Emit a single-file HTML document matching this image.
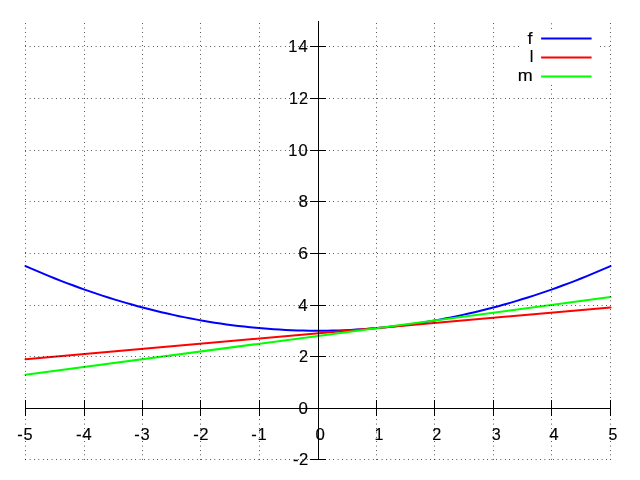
<!DOCTYPE html>
<html><head><meta charset="utf-8"><title>plot</title>
<style>html,body{margin:0;padding:0;background:#fff;}body{width:640px;height:480px;overflow:hidden;font-family:"Liberation Sans",sans-serif;}svg{display:block;will-change:transform}</style>
</head><body>
<svg width="640" height="480" viewBox="0 0 640 480">
<rect width="640" height="480" fill="#fff"/>
<polyline points="25.50,266.09 31.41,268.67 37.32,271.20 43.23,273.68 49.14,276.11 55.05,278.49 60.95,280.81 66.86,283.08 72.77,285.29 78.68,287.46 84.59,289.57 90.50,291.62 96.41,293.63 102.32,295.58 108.23,297.48 114.14,299.33 120.05,301.12 125.95,302.86 131.86,304.55 137.77,306.19 143.68,307.77 149.59,309.30 155.50,310.78 161.41,312.20 167.32,313.57 173.23,314.89 179.14,316.16 185.05,317.37 190.95,318.53 196.86,319.64 202.77,320.70 208.68,321.70 214.59,322.65 220.50,323.55 226.41,324.39 232.32,325.18 238.23,325.92 244.14,326.61 250.05,327.24 255.95,327.82 261.86,328.35 267.77,328.82 273.68,329.25 279.59,329.61 285.50,329.93 291.41,330.19 297.32,330.41 303.23,330.56 309.14,330.67 315.05,330.72 320.95,330.72 326.86,330.67 332.77,330.56 338.68,330.41 344.59,330.19 350.50,329.93 356.41,329.61 362.32,329.25 368.23,328.82 374.14,328.35 380.05,327.82 385.95,327.24 391.86,326.61 397.77,325.92 403.68,325.18 409.59,324.39 415.50,323.55 421.41,322.65 427.32,321.70 433.23,320.70 439.14,319.64 445.05,318.53 450.95,317.37 456.86,316.16 462.77,314.89 468.68,313.57 474.59,312.20 480.50,310.78 486.41,309.30 492.32,307.77 498.23,306.19 504.14,304.55 510.05,302.86 515.95,301.12 521.86,299.33 527.77,297.48 533.68,295.58 539.59,293.63 545.50,291.62 551.41,289.57 557.32,287.46 563.23,285.29 569.14,283.08 575.05,280.81 580.95,278.49 586.86,276.11 592.77,273.68 598.68,271.20 604.59,268.67 610.50,266.09" stroke="#0000ff" stroke-width="2" fill="none" stroke-linejoin="round" stroke-linecap="round"/>
<polyline points="25.50,359.17 610.50,307.46" stroke="#ff0000" stroke-width="2" fill="none" stroke-linejoin="round" stroke-linecap="round"/>
<polyline points="25.50,374.69 610.50,297.11" stroke="#00ff00" stroke-width="2" fill="none" stroke-linejoin="round" stroke-linecap="round"/>
<path d="M25.35 46.5H520.5 M600.1 46.5H610.9 M25.35 98.5H610.9 M25.35 150.5H610.9 M25.35 201.5H610.9 M25.35 253.5H610.9 M25.35 305.5H610.9 M25.35 356.5H610.9 M25.35 459.5H610.9 M25.5 459.6V20.5 M84.5 459.6V20.5 M142.5 459.6V20.5 M200.5 459.6V20.5 M259.5 459.6V20.5 M376.5 459.6V20.5 M434.5 459.6V20.5 M493.5 459.6V20.5 M551.5 459.6V84.0 M551.5 28.6V20.5 M610.5 459.6V20.5" stroke="#000" stroke-width="1" stroke-dasharray="0.65 3.7500000000000004" fill="none"/>
<path d="M25 408.5H611 M318.5 21V460 M25.5 400V416 M84.5 400V416 M142.5 400V416 M200.5 400V416 M259.5 400V416 M318.5 400V416 M376.5 400V416 M434.5 400V416 M493.5 400V416 M551.5 400V416 M610.5 400V416 M310 46.5H326 M310 98.5H326 M310 150.5H326 M310 201.5H326 M310 253.5H326 M310 305.5H326 M310 356.5H326 M310 408.5H326 M310 459.5H326" stroke="#000" stroke-width="1" fill="none"/>
<g font-family="'Liberation Sans', sans-serif" font-size="16.95" fill="#000" stroke="#000" stroke-width="0.15" stroke-linejoin="round">
<text transform="scale(0.975,1)" x="295.69 306.21" y="51.95">14</text>
<text transform="scale(0.955,1)" x="302.61 313.13" y="103.95">12</text>
<text transform="scale(0.974,1)" x="296.06 306.59" y="155.95">10</text>
<text transform="scale(1.006,1)" x="296.73" y="206.95">8</text>
<text transform="scale(1.030,1)" x="289.61" y="258.95">6</text>
<text transform="scale(0.995,1)" x="299.76" y="310.95">4</text>
<text transform="scale(0.959,1)" x="311.72" y="361.95">2</text>
<text transform="scale(0.995,1)" x="299.96" y="413.95">0</text>
<text transform="scale(0.980,1)" x="299.09 305.13" y="464.95">-2</text>
<text transform="scale(0.966,1)" x="17.96 24.26" y="439.90">-5</text>
<text transform="scale(1.002,1)" x="75.95 82.01" y="439.90">-4</text>
<text transform="scale(0.977,1)" x="137.51 143.80" y="439.90">-3</text>
<text transform="scale(0.980,1)" x="197.24 203.28" y="439.90">-2</text>
<text transform="scale(0.975,1)" x="257.79 263.99" y="439.90">-1</text>
<text transform="scale(0.995,1)" x="317.03" y="439.90">0</text>
<text transform="scale(0.950,1)" x="394.22" y="439.90">1</text>
<text transform="scale(0.959,1)" x="450.65" y="439.90">2</text>
<text transform="scale(0.956,1)" x="514.27" y="439.90">3</text>
<text transform="scale(0.995,1)" x="551.93" y="439.90">4</text>
<text transform="scale(0.939,1)" x="648.06" y="439.90">5</text>
<text transform="scale(1.060,1)" x="497.72" y="43.90">f</text>
<text transform="scale(0.965,1)" x="548.91" y="61.90">l</text>
<text transform="scale(1.060,1)" x="488.42" y="80.90">m</text>
</g>
<path d="M541.1 38.5H591.6" stroke="#0000ff" stroke-width="2" fill="none"/>
<path d="M541.1 57.5H591.6" stroke="#ff0000" stroke-width="2" fill="none"/>
<path d="M541.1 76.5H591.6" stroke="#00ff00" stroke-width="2" fill="none"/>
</svg>
</body></html>
